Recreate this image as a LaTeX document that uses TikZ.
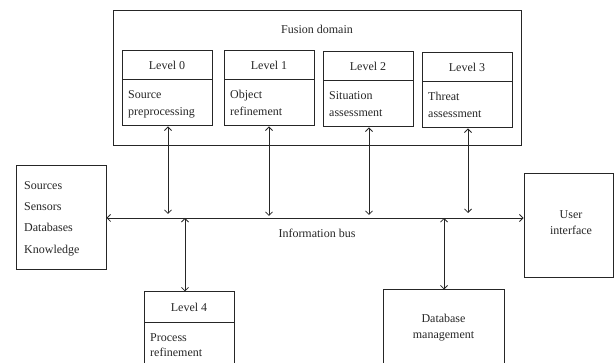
\documentclass[tikz,border=0pt]{standalone}
\usepackage{fontspec}
\setmainfont{Liberation Serif}
\usetikzlibrary{arrows.meta}
\begin{document}
\begin{tikzpicture}[x=1pt,y=-1pt,
  box/.style={draw=black!85, line width=1pt, inner sep=0pt},
  lbl/.style={font=\fontsize{12}{17}\selectfont, inner sep=0pt, text=black!85},
  lvl/.style={box, lbl, minimum width=90pt, minimum height=29pt},
  body/.style={box, minimum width=90pt, minimum height=46pt},
  btxt/.style={lbl, anchor=north west, align=left},
  conn/.style={draw=black!85, line width=0.85pt, {Straight Barb[length=3.5pt,width=7pt]}-{Straight Barb[length=3.5pt,width=7pt]}},
]
\useasboundingbox (0,0) rectangle (614,363);
\clip (0,0) rectangle (614,363);

% Fusion domain
\node[box, minimum width=408pt, minimum height=135pt] (fusion) at (317,78.5) {};
\node[lbl] (ftitle) at (317,29) {Fusion domain};

% Level 0
\node[lvl] (L0t) at (167,65.5) {Level 0};
\node[body] (L0b) at (167,103) {};
\node[btxt] (L0x) at (128,90) {Source\\preprocessing};
% Level 1
\node[lvl] (L1t) at (269,65.5) {Level 1};
\node[body] (L1b) at (269,103) {};
\node[btxt] (L1x) at (230,90) {Object\\refinement};
% Level 2
\node[lvl] (L2t) at (368,66.5) {Level 2};
\node[body] (L2b) at (368,104) {};
\node[btxt] (L2x) at (329,91) {Situation\\assessment};
% Level 3
\node[lvl] (L3t) at (467,67.5) {Level 3};
\node[body] (L3b) at (467,105) {};
\node[btxt] (L3x) at (428,92) {Threat\\assessment};

% Sources
\node[box, minimum width=90pt, minimum height=104pt] (src) at (61,218) {};
\node[lbl, anchor=north west, align=left, font=\fontsize{12}{21.3}\selectfont] (srcx) at (24,181) {Sources\\Sensors\\Databases\\Knowledge};

% User interface
\node[box, minimum width=89pt, minimum height=104pt] (ui) at (568.5,226) {};
\node[lbl, align=center, font=\fontsize{12}{16}\selectfont] (uix) at (571,223) {User\\interface};

% Level 4
\node[lvl, minimum height=31pt] (L4t) at (189,307.5) {Level 4};
\node[body, minimum height=57pt] (L4b) at (189,351.5) {};
\node[btxt, font=\fontsize{12}{15.5}\selectfont] (L4x) at (150,333) {Process\\refinement};

% Database management
\node[box, minimum width=121pt, minimum height=90pt] (db) at (443.5,335) {};
\node[lbl, align=center, font=\fontsize{12}{16}\selectfont] (dbx) at (443.5,328) {Database\\management};

% Information bus
\coordinate (busL) at (106,218);
\coordinate (busR) at (524,218);
\draw[conn] (src.east |- busL) -- (ui.west |- busR);
\node[lbl] (bus) at (317,233) {Information bus};

\coordinate (b0) at (168,214);
\coordinate (b1) at (269,216);
\coordinate (b2) at (369,215);
\coordinate (b3) at (468,213);
\coordinate (b4) at (185,218);
\coordinate (b5) at (444,218);

\draw[conn] (L0b.south -| b0) -- (b0);
\draw[conn] (L1b.south -| b1) -- (b1);
\draw[conn] (L2b.south -| b2) -- (b2);
\draw[conn] (L3b.south -| b3) -- (b3);
\draw[conn] (b4) -- (L4t.north -| b4);
\draw[conn] (b5) -- (db.north -| b5);
\end{tikzpicture}
\end{document}
